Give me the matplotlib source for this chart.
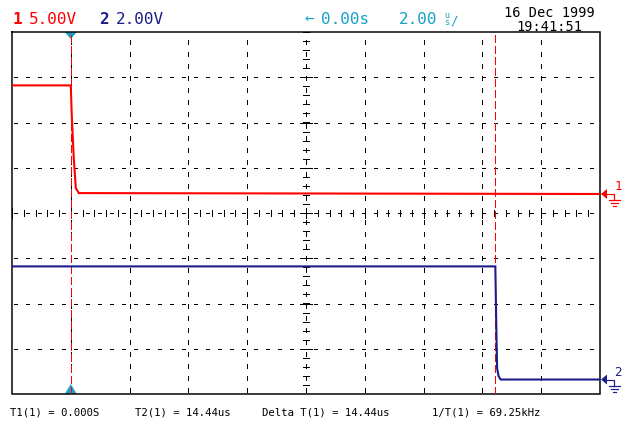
import matplotlib
matplotlib.use("Agg")
import matplotlib.pyplot as plt
from matplotlib.patches import Polygon
import numpy as np

# --- Data (read from the scope screen) ---
# channel 1: 5 V/div, channel 2: 2 V/div, timebase 2 us/div
ch1_t = [-2.0, 0.0, 0.03, 0.10, 0.17, 0.27, 18.0]
ch1_v = [12.0, 12.0, 8.9, 4.0, 0.66, 0.1, 0.0]
ch2_t = [-2.0, 14.44, 14.47, 14.50, 14.55, 14.62, 18.0]
ch2_v = [5.0, 5.0, 2.6, 0.5, 0.15, 0.0, 0.0]
volts_div = [5.0, 2.0]
offset_div = [0.42, -3.68]
cursors = [0.0, 14.44]
time_div = 2.0
t_start = -2.0

RED = "#ff0000"
NAVY = "#1c1c8c"
CYAN = "#18a0c8"
MONO = "DejaVu Sans Mono"

plt.rcParams["lines.scale_dashes"] = False

W, H = 628, 432
fig = plt.figure(figsize=(W / 100, H / 100), dpi=100, facecolor="white")

# graticule box in pixels
L, R, T, B = 12, 600, 32, 394
ax = fig.add_axes([L / W, (H - B) / H, (R - L) / W, (B - T) / H])
t_end = t_start + 10 * time_div
ax.set_xlim(t_start, t_end)
ax.set_ylim(-4, 4)
ax.axis("off")
ax.patch.set_visible(False)
ax.set_zorder(2)

ov = fig.add_axes([0, 0, 1, 1])
ov.set_xlim(0, W)
ov.set_ylim(H, 0)
ov.axis("off")
ov.patch.set_visible(False)
ov.set_zorder(1)

px = 0.72  # one pixel in points
divx = (R - L) / 10
divy = (B - T) / 8
thin = dict(color="black", lw=px, antialiased=False)

def px_x(t):
    return L + (t - t_start) / time_div * divx

def px_y(d):
    return T + (4 - d) * divy

# border
ov.plot([L, R, R, L, L], [T, T, B, B, T], color="black", lw=1.5 * px,
        solid_joinstyle="miter")

# dotted grid
hp = divx / 5 * px
hon = 3 * px
for j in range(-3, 4):
    ax.axhline(j, linestyle=(hp - hon / 2, (hon, hp - hon)), **thin)
vp = divy / 4 * px
for k in range(1, 10):
    ax.axvline(t_start + k * time_div,
               linestyle=(vp - hon / 2, (hon, vp - hon)), **thin)

# centre line ticks
tc = t_start + 5 * time_div
ax.vlines(np.arange(t_start, t_end + 0.01, time_div / 5), -0.075, 0.075,
          **thin)
ax.vlines(np.arange(t_start, t_end + 0.01, time_div), -0.1, 0.1, **thin)
ax.hlines(np.arange(-4, 4.01, 0.2), tc - 0.09, tc + 0.09, **thin)
ax.hlines(np.arange(-3, 4), tc - 0.2, tc + 0.2, **thin)
ax.vlines(tc, -0.12, 0.12, **thin)

# cursors
for c in cursors:
    ax.axvline(c, color=RED, lw=px, antialiased=False,
               linestyle=(0, (8 * px, 4 * px)))

# traces
ax.plot(ch1_t, np.array(ch1_v) / volts_div[0] + offset_div[0], color=RED,
        lw=1.5, solid_joinstyle="miter")
ax.plot(ch2_t, np.array(ch2_v) / volts_div[1] + offset_div[1], color=NAVY,
        lw=1.5, solid_joinstyle="miter")

# trigger markers on the cursor
x0 = px_x(cursors[0])
ov.add_patch(Polygon([(x0 - 6, T), (x0 + 6, T), (x0, T + 7)], closed=True,
                     color=CYAN, lw=0))
ov.add_patch(Polygon([(x0 - 6, B), (x0 + 6, B), (x0, B - 10)], closed=True,
                     color=CYAN, lw=0))

# channel ground markers on the right
for off, col, lab in zip(offset_div, [RED, NAVY], ["1", "2"]):
    y = px_y(off)
    ov.add_patch(Polygon([(R + 1, y), (R + 7, y - 5), (R + 7, y + 5)],
                         closed=True, color=col, lw=0))
    ov.plot([R + 7, R + 14, R + 14], [y, y, y + 6], color=col, lw=1.2 * px)
    for dy, hw in [(6, 5.5), (9, 3.5), (12, 1.5)]:
        ov.plot([R + 14.5 - hw, R + 14.5 + hw], [y + dy, y + dy], color=col,
                lw=1.2 * px)
    ov.text(R + 18, y - 4, lab, color=col, fontsize=9, family=MONO,
            ha="center", va="baseline")

# header text
ov.text(13, 24.3, "1", color=RED, fontsize=11.5, family=MONO,
        fontweight="bold", va="baseline")
ov.text(29, 24.3, "5.00V", color=RED, fontsize=11.5, family=MONO,
        va="baseline")
ov.text(99, 24.3, "2", color=NAVY, fontsize=11.5, family=MONO,
        fontweight="bold", va="baseline")
ov.text(116, 24.3, "2.00V", color=NAVY, fontsize=11.5, family=MONO,
        va="baseline")
ov.text(304, 24.3, "\u2190", color=CYAN, fontsize=11.5, family=MONO,
        va="baseline")
ov.text(321, 24.3, "0.00s", color=CYAN, fontsize=11.5, family=MONO,
        va="baseline")
ov.text(399, 24.3, "2.00", color=CYAN, fontsize=11.5, family=MONO,
        va="baseline")
ov.text(447, 17.5, "u", color=CYAN, fontsize=6, family=MONO,
        ha="center", va="baseline")
ov.text(447, 25, "s", color=CYAN, fontsize=6, family=MONO,
        ha="center", va="baseline")
ov.text(450, 24.3, "/", color=CYAN, fontsize=9, family=MONO,
        va="baseline")
ov.text(549, 17.3, "16 Dec 1999", color="black", fontsize=9.8, family=MONO,
        ha="center", va="baseline")
ov.text(549, 30.9, "19:41:51", color="black", fontsize=9.8, family=MONO,
        ha="center", va="baseline")

# cursor readout
readout = [(10, "T1(1) = 0.000S"), (135, "T2(1) = 14.44us"),
           (262, "Delta T(1) = 14.44us"), (432, "1/T(1) = 69.25kHz")]
for x, s in readout:
    ov.text(x, 415.5, s, color="black", fontsize=7.7, family=MONO,
            va="baseline")

fig.savefig("out.png", dpi=100, facecolor="white")
